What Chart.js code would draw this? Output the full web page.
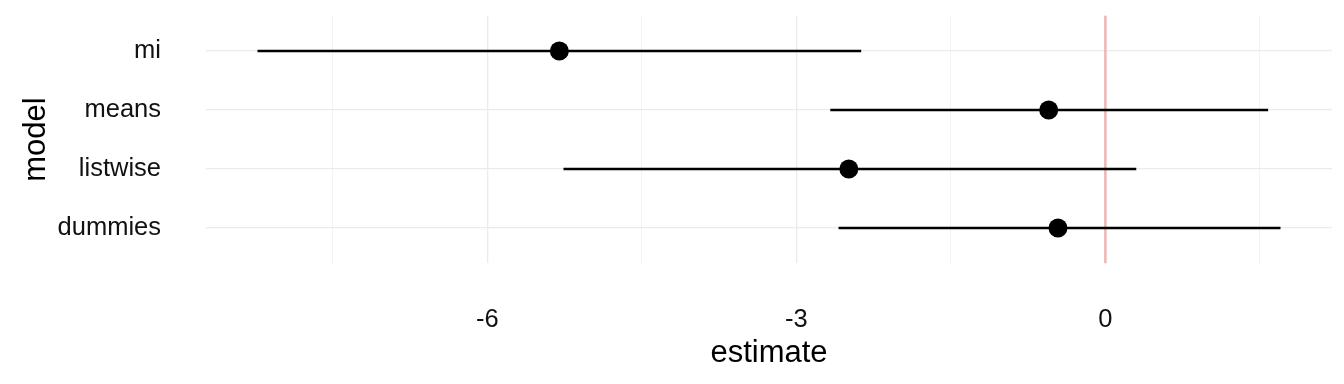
<!DOCTYPE html>
<html>
<head>
<meta charset="utf-8">
<script src="https://cdn.jsdelivr.net/npm/chart.js@4"></script>
<style>
  html, body { margin: 0; padding: 0; background: #ffffff; }
  #wrap { width: 1344px; height: 384px; }
</style>
</head>
<body>
<div id="wrap"><canvas id="c" width="1344" height="384"></canvas></div>
<script>
// ---- data (bottom-to-top order on the y axis) ----
const models   = ['dummies', 'listwise', 'means', 'mi'];
const estimate = [-0.46, -2.49, -0.55, -5.30];
const lower    = [-2.59, -5.26, -2.67, -8.23];
const upper    = [1.70, 0.30, 1.58, -2.37];
const xMajorTicks  = [-6, -3, 0];
const xTickLabels  = ['-6', '-3', '0'];
const xMinorTicks  = [-7.5, -4.5, -1.5, 1.5];
const refLineX = 0;

const FONT = "'Liberation Sans', Arial, Helvetica, sans-serif";

const datasets = [];
// points (drawn on top)
datasets.push({
  data: models.map((m, i) => ({ x: estimate[i], y: i })),
  showLine: false,
  pointRadius: 9.5,
  pointHoverRadius: 9.5,
  pointBackgroundColor: '#000000',
  pointBorderWidth: 0,
  borderWidth: 0
});
// interval lines
models.forEach((m, i) => {
  datasets.push({
    data: [{ x: lower[i], y: i }, { x: upper[i], y: i }],
    showLine: true,
    borderColor: '#000000',
    borderWidth: 2.7,
    borderCapStyle: 'butt',
    pointRadius: 0,
    pointHoverRadius: 0
  });
});
// reference line at zero
datasets.push({
  data: [{ x: refLineX, y: -0.6 }, { x: refLineX, y: 3.6 }],
  showLine: true,
  borderColor: '#f5b4b1',
  borderWidth: 2.5,
  pointRadius: 0,
  pointHoverRadius: 0
});

const allX = [...xMinorTicks, ...xMajorTicks].sort((a, b) => a - b);

new Chart(document.getElementById('c'), {
  type: 'scatter',
  data: { datasets },
  options: {
    responsive: false,
    animation: false,
    devicePixelRatio: 1,
    layout: { padding: { top: 15.6, right: 12, left: 0, bottom: 0 } },
    plugins: { legend: { display: false }, tooltip: { enabled: false } },
    scales: {
      x: {
        type: 'linear',
        min: -8.73,
        max: 2.2,
        afterBuildTicks: (s) => { s.ticks = allX.map(v => ({ value: v })); },
        afterFit: (s) => { s.height = 120.6; s.paddingLeft = 0; s.paddingRight = 0; },
        border: { display: false },
        grid: {
          drawTicks: false,
          color: (ctx) => (ctx.tick && xMajorTicks.includes(ctx.tick.value)) ? '#ebebeb' : '#f3f3f3',
          lineWidth: (ctx) => (ctx.tick && xMajorTicks.includes(ctx.tick.value)) ? 1.3 : 1
        },
        ticks: {
          autoSkip: false,
          maxRotation: 0,
          padding: 41,
          color: '#111111',
          font: { family: FONT, size: 25.5 },
          callback: (v) => {
            const k = xMajorTicks.indexOf(v);
            return k >= 0 ? xTickLabels[k] : '';
          }
        },
        title: {
          display: true,
          text: 'estimate',
          color: '#000000',
          font: { family: FONT, size: 31 },
          padding: { top: 0, bottom: 11.5 }
        }
      },
      y: {
        type: 'linear',
        min: -0.6,
        max: 3.6,
        afterBuildTicks: (s) => { s.ticks = models.map((m, i) => ({ value: i })); },
        afterFit: (s) => { s.width = 206; s.paddingTop = 0; s.paddingBottom = 0; },
        border: { display: false },
        grid: { drawTicks: false, color: '#ebebeb', lineWidth: 1.3 },
        ticks: {
          autoSkip: false,
          padding: 45,
          color: '#111111',
          font: { family: FONT, size: 25.5 },
          callback: (v) => models[v] !== undefined ? models[v] : ''
        },
        title: {
          display: true,
          text: 'model',
          color: '#000000',
          font: { family: FONT, size: 31 },
          padding: { top: 17.4, bottom: 0 }
        }
      }
    }
  }
});
</script>
</body>
</html>
